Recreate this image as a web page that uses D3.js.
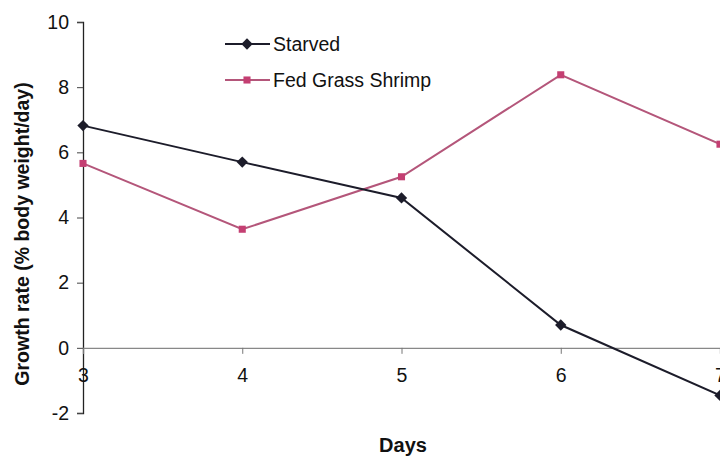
<!DOCTYPE html>
<html>
<head>
<meta charset="utf-8">
<script src="https://cdn.jsdelivr.net/npm/d3@7/dist/d3.min.js"></script>
<style>
  html, body { margin: 0; padding: 0; background: #fff; }
  svg { display: block; font-family: "Liberation Sans", Arial, sans-serif; }
</style>
</head>
<body>
<svg id="chart" width="720" height="457"></svg>
<script>
// Growth rate by day for two feeding treatments
const days = [3, 4, 5, 6, 7];
const starved = [6.82, 5.7, 4.6, 0.7, -1.46];
const fedGrassShrimp = [5.66, 3.64, 5.25, 8.38, 6.25];
const yTicks = [-2, 0, 2, 4, 6, 8, 10];
const seriesNames = ["Starved", "Fed Grass Shrimp"];

const svg = d3.select("#chart");
const plotLeft = 83, plotRight = 720, plotTop = 22, plotBottom = 413;

const x = d3.scaleLinear().domain([3, 7]).range([plotLeft, plotRight]);
const y = d3.scaleLinear().domain([-2, 10]).range([plotBottom, plotTop]);

const colStarved = "#1c1c2a";
const colFed = "#b4567a";
const colFedMarker = "#c43f72";
const plainNumber = d => String(d);

// Y axis
const yAxis = d3.axisLeft(y).tickValues(yTicks).tickSize(6).tickPadding(8)
  .tickFormat(plainNumber);
const gy = svg.append("g").attr("transform", `translate(${plotLeft},0)`).call(yAxis);
gy.select(".domain").attr("stroke", "#222").attr("stroke-width", 1.3);
gy.selectAll(".tick line").attr("stroke", "#444");
gy.selectAll(".tick text").attr("font-size", 19.5).attr("fill", "#111")
  .attr("font-family", "Liberation Sans, Arial, sans-serif");

// X axis along the zero line
const xAxis = d3.axisBottom(x).tickValues(days).tickSize(6).tickPadding(14)
  .tickFormat(plainNumber);
const gx = svg.append("g").attr("transform", `translate(0,${y(0)})`).call(xAxis);
gx.select(".domain").attr("stroke", "#888").attr("stroke-width", 1.3);
gx.selectAll(".tick line").attr("stroke", "#777");
gx.selectAll(".tick text").attr("font-size", 19.5).attr("fill", "#111")
  .attr("font-family", "Liberation Sans, Arial, sans-serif");

// Axis titles
svg.append("text")
  .attr("transform", "translate(29,234) rotate(-90)")
  .attr("text-anchor", "middle")
  .attr("font-size", 19.5).attr("font-weight", "bold").attr("fill", "#111")
  .text("Growth rate (% body weight/day)");

svg.append("text")
  .attr("x", 403).attr("y", 452)
  .attr("text-anchor", "middle")
  .attr("font-size", 20).attr("font-weight", "bold").attr("fill", "#111")
  .text("Days");

// Lines
const line = d3.line().x((d, i) => x(days[i])).y(d => y(d));

svg.append("path").datum(fedGrassShrimp)
  .attr("d", line).attr("fill", "none")
  .attr("stroke", colFed).attr("stroke-width", 2);

svg.append("path").datum(starved)
  .attr("d", line).attr("fill", "none")
  .attr("stroke", colStarved).attr("stroke-width", 2);

// Markers: squares for fed, squares turned 45° (diamonds) for starved
const diamond = d3.symbol().type(d3.symbolSquare).size(64);
const square = d3.symbol().type(d3.symbolSquare).size(50);

svg.append("g").selectAll("path").data(fedGrassShrimp).join("path")
  .attr("transform", (d, i) => `translate(${x(days[i])},${y(d)})`)
  .attr("d", square).attr("fill", colFedMarker);

svg.append("g").selectAll("path").data(starved).join("path")
  .attr("transform", (d, i) => `translate(${x(days[i])},${y(d)}) rotate(45)`)
  .attr("d", diamond).attr("fill", colStarved);

// Legend
const legend = svg.append("g");
const legendRows = [
  { name: seriesNames[0], color: colStarved, mcolor: colStarved, sym: diamond, rot: 45, yy: 44 },
  { name: seriesNames[1], color: colFed, mcolor: colFedMarker, sym: square, rot: 0, yy: 80 }
];
legendRows.forEach(r => {
  legend.append("line").attr("x1", 225).attr("x2", 270)
    .attr("y1", r.yy).attr("y2", r.yy)
    .attr("stroke", r.color).attr("stroke-width", 2);
  legend.append("path").attr("transform", `translate(247,${r.yy}) rotate(${r.rot})`)
    .attr("d", r.sym).attr("fill", r.mcolor);
  legend.append("text").attr("x", 273).attr("y", r.yy + 7)
    .attr("font-size", 19.5).attr("fill", "#111").text(r.name);
});
</script>
</body>
</html>
